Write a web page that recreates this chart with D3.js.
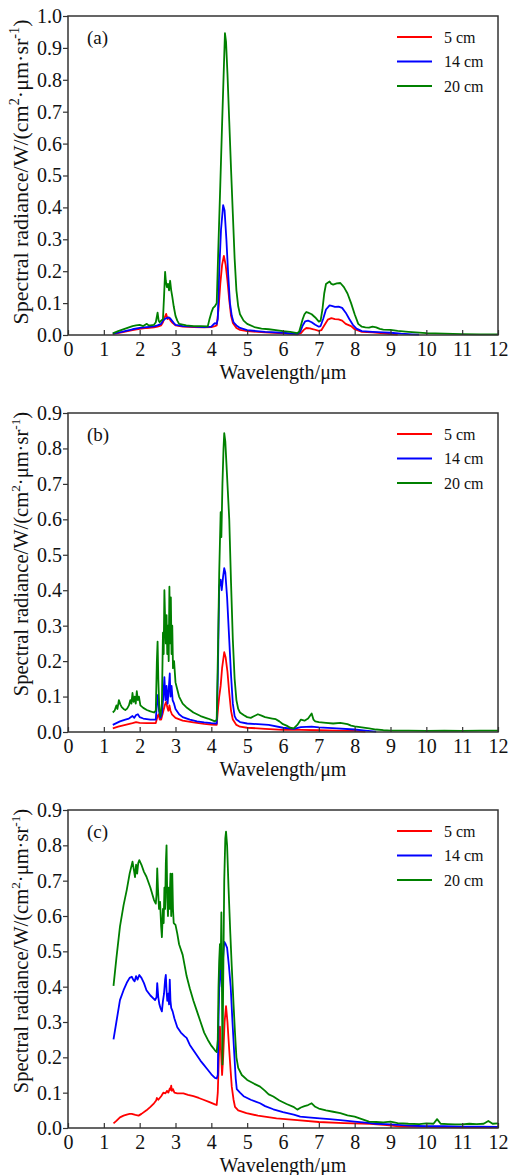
<!DOCTYPE html>
<html><head><meta charset="utf-8">
<script src="https://cdn.jsdelivr.net/npm/d3@7"></script>
<style>html,body{margin:0;padding:0;background:#fff;}svg{display:block;} svg text{font-family:"Liberation Serif","DejaVu Serif",serif;}</style>
</head><body>
<script>
// ---------- data (wavelength μm, radiance) ----------
const seriesNames = ["5 cm", "14 cm", "20 cm"];
const seriesColors = ["#ff0000", "#0000ff", "#008000"];
const xTicks = [0,1,2,3,4,5,6,7,8,9,10,11,12];
const yTicksA = [0,0.1,0.2,0.3,0.4,0.5,0.6,0.7,0.8,0.9,1.0];
const yTicksBC = [0,0.1,0.2,0.3,0.4,0.5,0.6,0.7,0.8,0.9];
const panelLabels = ["(a)", "(b)", "(c)"];

const redA = [[1.25,0.003],[1.5,0.008],[1.8,0.015],[2.0,0.019],[2.2,0.022],[2.4,0.024],[2.5,0.026],[2.6,0.03],[2.65,0.04],[2.7,0.055],[2.74,0.066],[2.78,0.05],[2.82,0.055],[2.86,0.045],[2.9,0.04],[3.0,0.03],[3.2,0.026],[3.5,0.025],[3.8,0.024],[4.0,0.025],[4.1,0.028],[4.15,0.03],[4.2,0.08],[4.25,0.16],[4.3,0.22],[4.35,0.248],[4.4,0.22],[4.45,0.17],[4.5,0.11],[4.55,0.06],[4.6,0.038],[4.7,0.022],[4.8,0.016],[5.0,0.012],[5.5,0.008],[6.0,0.005],[6.4,0.002],[6.5,0.006],[6.58,0.016],[6.65,0.022],[6.75,0.021],[6.85,0.018],[7.0,0.013],[7.07,0.015],[7.15,0.03],[7.25,0.048],[7.35,0.053],[7.45,0.05],[7.55,0.049],[7.65,0.045],[7.75,0.035],[7.9,0.028],[8.0,0.018],[8.2,0.01],[8.5,0.008],[8.8,0.005],[9.0,0.003],[9.2,0.001]];
const blueA = [[1.25,0.004],[1.5,0.01],[1.8,0.018],[2.0,0.022],[2.2,0.025],[2.4,0.027],[2.5,0.03],[2.6,0.035],[2.65,0.045],[2.7,0.05],[2.75,0.053],[2.8,0.055],[2.85,0.052],[2.9,0.045],[2.95,0.038],[3.0,0.032],[3.2,0.028],[3.5,0.026],[3.8,0.025],[4.0,0.026],[4.05,0.032],[4.1,0.037],[4.15,0.035],[4.18,0.05],[4.22,0.2],[4.27,0.33],[4.33,0.407],[4.37,0.39],[4.42,0.3],[4.47,0.19],[4.52,0.1],[4.57,0.06],[4.62,0.04],[4.7,0.03],[4.8,0.022],[5.0,0.015],[5.5,0.01],[6.0,0.007],[6.4,0.003],[6.48,0.01],[6.55,0.03],[6.62,0.043],[6.7,0.045],[6.8,0.04],[6.9,0.032],[7.0,0.026],[7.05,0.028],[7.12,0.05],[7.2,0.08],[7.3,0.093],[7.36,0.091],[7.45,0.088],[7.55,0.089],[7.65,0.085],[7.75,0.07],[7.85,0.05],[7.95,0.032],[8.05,0.02],[8.2,0.012],[8.5,0.01],[8.8,0.008],[9.0,0.007],[9.3,0.004],[9.6,0.002],[9.8,0.001]];
const greenA = [[1.25,0.005],[1.4,0.012],[1.6,0.02],[1.8,0.028],[1.9,0.03],[2.0,0.032],[2.1,0.028],[2.2,0.035],[2.25,0.03],[2.3,0.03],[2.4,0.032],[2.45,0.04],[2.5,0.07],[2.53,0.045],[2.56,0.04],[2.6,0.045],[2.65,0.05],[2.68,0.12],[2.71,0.198],[2.73,0.17],[2.76,0.15],[2.79,0.16],[2.82,0.14],[2.85,0.17],[2.88,0.14],[2.91,0.12],[2.95,0.09],[3.0,0.06],[3.05,0.045],[3.1,0.035],[3.3,0.03],[3.5,0.028],[3.7,0.028],[3.9,0.027],[3.95,0.05],[4.0,0.07],[4.05,0.085],[4.1,0.09],[4.15,0.1],[4.2,0.29],[4.25,0.47],[4.3,0.66],[4.35,0.84],[4.38,0.946],[4.41,0.92],[4.45,0.82],[4.5,0.67],[4.55,0.52],[4.6,0.38],[4.65,0.24],[4.7,0.14],[4.75,0.09],[4.8,0.065],[4.9,0.045],[5.0,0.035],[5.2,0.025],[5.4,0.02],[5.6,0.018],[5.8,0.015],[6.0,0.012],[6.2,0.01],[6.4,0.006],[6.45,0.01],[6.5,0.03],[6.55,0.05],[6.6,0.065],[6.65,0.072],[6.7,0.07],[6.8,0.065],[6.9,0.055],[7.0,0.042],[7.05,0.045],[7.1,0.08],[7.15,0.13],[7.2,0.16],[7.3,0.168],[7.35,0.16],[7.4,0.158],[7.5,0.162],[7.6,0.163],[7.7,0.15],[7.8,0.13],[7.9,0.1],[8.0,0.065],[8.1,0.035],[8.2,0.026],[8.3,0.024],[8.4,0.023],[8.5,0.026],[8.6,0.024],[8.7,0.019],[8.8,0.017],[9.0,0.016],[9.2,0.013],[9.5,0.01],[10.0,0.006],[10.5,0.004],[11,0.003],[11.5,0.002],[12,0.002]];

const redB = [[1.25,0.01],[1.4,0.015],[1.6,0.02],[1.8,0.025],[1.9,0.028],[2.0,0.026],[2.2,0.025],[2.45,0.025],[2.5,0.045],[2.53,0.05],[2.56,0.035],[2.6,0.035],[2.65,0.055],[2.7,0.075],[2.74,0.085],[2.77,0.07],[2.8,0.06],[2.83,0.075],[2.86,0.06],[2.9,0.05],[3.0,0.04],[3.2,0.032],[3.5,0.027],[3.8,0.023],[4.0,0.021],[4.15,0.02],[4.19,0.07],[4.22,0.1],[4.26,0.13],[4.3,0.18],[4.36,0.225],[4.4,0.21],[4.45,0.17],[4.5,0.11],[4.55,0.06],[4.6,0.035],[4.7,0.02],[4.8,0.015],[5.0,0.012],[5.5,0.009],[6.0,0.006],[6.5,0.006],[7.0,0.005],[7.5,0.004],[8.0,0.003],[8.3,0.001]];
const blueB = [[1.25,0.02],[1.35,0.025],[1.45,0.03],[1.6,0.035],[1.7,0.038],[1.8,0.045],[1.85,0.04],[1.9,0.048],[1.95,0.05],[2.0,0.042],[2.1,0.038],[2.3,0.035],[2.45,0.035],[2.48,0.08],[2.51,0.105],[2.54,0.06],[2.58,0.04],[2.62,0.05],[2.66,0.1],[2.69,0.155],[2.72,0.09],[2.75,0.13],[2.78,0.08],[2.81,0.12],[2.84,0.165],[2.86,0.1],[2.89,0.13],[2.92,0.09],[2.96,0.08],[3.0,0.065],[3.1,0.05],[3.2,0.042],[3.4,0.035],[3.6,0.03],[3.8,0.027],[4.0,0.025],[4.15,0.024],[4.18,0.15],[4.22,0.41],[4.26,0.43],[4.29,0.4],[4.33,0.44],[4.36,0.462],[4.39,0.45],[4.44,0.38],[4.5,0.26],[4.55,0.16],[4.6,0.08],[4.65,0.045],[4.7,0.035],[4.8,0.028],[5.0,0.024],[5.3,0.022],[5.6,0.02],[6.0,0.012],[6.3,0.009],[6.5,0.014],[6.8,0.015],[7.0,0.013],[7.5,0.01],[8.0,0.007],[8.3,0.004],[8.6,0.001]];
const greenB = [[1.25,0.055],[1.3,0.06],[1.35,0.075],[1.38,0.065],[1.42,0.09],[1.46,0.078],[1.5,0.07],[1.55,0.065],[1.6,0.062],[1.65,0.066],[1.7,0.075],[1.74,0.09],[1.77,0.08],[1.8,0.11],[1.83,0.085],[1.86,0.1],[1.89,0.08],[1.92,0.115],[1.95,0.09],[1.98,0.1],[2.02,0.075],[2.1,0.068],[2.2,0.062],[2.3,0.058],[2.4,0.055],[2.45,0.06],[2.48,0.2],[2.5,0.255],[2.52,0.15],[2.55,0.06],[2.58,0.045],[2.62,0.08],[2.65,0.28],[2.67,0.22],[2.69,0.4],[2.71,0.32],[2.73,0.25],[2.75,0.33],[2.77,0.22],[2.79,0.3],[2.81,0.2],[2.83,0.41],[2.85,0.25],[2.87,0.38],[2.89,0.22],[2.91,0.3],[2.93,0.18],[2.96,0.2],[3.0,0.14],[3.05,0.12],[3.1,0.1],[3.2,0.08],[3.3,0.07],[3.5,0.055],[3.7,0.045],[3.9,0.038],[4.0,0.034],[4.1,0.03],[4.15,0.035],[4.18,0.2],[4.22,0.45],[4.26,0.62],[4.28,0.55],[4.31,0.7],[4.34,0.8],[4.36,0.843],[4.39,0.82],[4.42,0.76],[4.46,0.68],[4.5,0.6],[4.55,0.42],[4.6,0.26],[4.65,0.15],[4.7,0.09],[4.75,0.065],[4.8,0.055],[4.9,0.048],[5.0,0.042],[5.1,0.04],[5.2,0.045],[5.3,0.05],[5.4,0.046],[5.5,0.042],[5.6,0.04],[5.7,0.038],[5.8,0.036],[5.9,0.03],[6.0,0.022],[6.1,0.018],[6.2,0.012],[6.3,0.01],[6.4,0.02],[6.5,0.035],[6.6,0.032],[6.7,0.038],[6.8,0.052],[6.85,0.035],[6.9,0.03],[7.0,0.028],[7.2,0.026],[7.4,0.024],[7.6,0.026],[7.8,0.022],[7.9,0.018],[8.0,0.016],[8.2,0.013],[8.4,0.01],[8.6,0.007],[8.8,0.005],[9.0,0.004],[9.5,0.004],[10,0.003],[10.5,0.004],[11,0.003],[11.5,0.004],[12,0.004]];

const redC = [[1.27,0.013],[1.35,0.02],[1.45,0.03],[1.55,0.035],[1.64,0.038],[1.72,0.04],[1.78,0.04],[1.88,0.037],[1.97,0.035],[2.05,0.04],[2.19,0.05],[2.3,0.06],[2.4,0.07],[2.46,0.078],[2.48,0.085],[2.52,0.08],[2.56,0.085],[2.6,0.09],[2.66,0.1],[2.72,0.098],[2.76,0.105],[2.8,0.1],[2.84,0.112],[2.86,0.108],[2.88,0.12],[2.9,0.105],[2.93,0.11],[2.97,0.1],[3.05,0.098],[3.22,0.098],[3.35,0.094],[3.5,0.09],[3.65,0.085],[3.78,0.08],[3.95,0.073],[4.1,0.067],[4.15,0.065],[4.18,0.1],[4.21,0.2],[4.24,0.287],[4.27,0.22],[4.3,0.15],[4.33,0.2],[4.37,0.3],[4.41,0.345],[4.45,0.3],[4.5,0.22],[4.54,0.16],[4.57,0.117],[4.62,0.08],[4.66,0.06],[4.75,0.05],[4.98,0.042],[5.3,0.035],[5.82,0.027],[6.4,0.022],[7.0,0.017],[7.7,0.014],[8.43,0.012],[8.9,0.008],[9.3,0.004],[10,0.003],[11,0.002],[12,0.002]];
const blueC = [[1.27,0.251],[1.35,0.3],[1.45,0.362],[1.55,0.39],[1.64,0.411],[1.72,0.425],[1.78,0.428],[1.82,0.42],[1.86,0.415],[1.9,0.43],[1.94,0.42],[1.99,0.433],[2.05,0.425],[2.12,0.41],[2.19,0.39],[2.3,0.375],[2.43,0.362],[2.47,0.37],[2.49,0.41],[2.52,0.37],[2.55,0.35],[2.58,0.34],[2.62,0.33],[2.65,0.36],[2.68,0.38],[2.71,0.42],[2.73,0.433],[2.75,0.39],[2.77,0.36],[2.8,0.38],[2.82,0.35],[2.84,0.42],[2.86,0.36],[2.88,0.34],[2.92,0.33],[2.97,0.31],[3.05,0.285],[3.15,0.27],[3.25,0.26],[3.31,0.255],[3.4,0.235],[3.5,0.22],[3.6,0.205],[3.7,0.19],[3.78,0.18],[3.9,0.165],[4.0,0.152],[4.1,0.142],[4.15,0.14],[4.18,0.15],[4.2,0.3],[4.24,0.485],[4.27,0.43],[4.29,0.4],[4.32,0.47],[4.36,0.527],[4.4,0.52],[4.44,0.51],[4.49,0.46],[4.54,0.4],[4.59,0.3],[4.64,0.21],[4.68,0.14],[4.71,0.11],[4.8,0.1],[4.9,0.09],[5.1,0.08],[5.36,0.07],[5.5,0.062],[5.73,0.053],[6.0,0.045],[6.3,0.038],[6.48,0.032],[6.7,0.03],[7.03,0.027],[7.3,0.025],[7.6,0.022],[8.0,0.018],[8.3,0.015],[8.6,0.012],[9.0,0.01],[9.5,0.007],[10.0,0.005],[10.5,0.005],[11.0,0.004],[11.5,0.004],[12.0,0.003]];
const greenC = [[1.27,0.402],[1.35,0.48],[1.45,0.57],[1.55,0.63],[1.64,0.674],[1.72,0.72],[1.8,0.754],[1.84,0.73],[1.87,0.71],[1.9,0.745],[1.93,0.72],[1.96,0.75],[1.99,0.758],[2.05,0.745],[2.12,0.725],[2.19,0.711],[2.3,0.68],[2.4,0.645],[2.45,0.635],[2.47,0.66],[2.49,0.735],[2.51,0.68],[2.54,0.62],[2.57,0.64],[2.6,0.57],[2.62,0.54],[2.65,0.62],[2.67,0.58],[2.69,0.68],[2.71,0.62],[2.73,0.75],[2.75,0.8],[2.77,0.65],[2.79,0.6],[2.81,0.68],[2.83,0.62],[2.86,0.72],[2.88,0.6],[2.91,0.72],[2.93,0.62],[2.95,0.58],[3.0,0.575],[3.05,0.55],[3.1,0.52],[3.2,0.49],[3.31,0.43],[3.4,0.395],[3.5,0.36],[3.6,0.33],[3.7,0.3],[3.8,0.27],[3.9,0.25],[4.0,0.233],[4.1,0.22],[4.15,0.215],[4.18,0.25],[4.2,0.4],[4.22,0.475],[4.24,0.52],[4.26,0.45],[4.28,0.61],[4.3,0.35],[4.31,0.18],[4.33,0.4],[4.36,0.7],[4.39,0.82],[4.41,0.839],[4.44,0.8],[4.48,0.68],[4.53,0.55],[4.57,0.457],[4.62,0.35],[4.66,0.27],[4.7,0.2],[4.75,0.17],[4.85,0.15],[5.0,0.136],[5.2,0.125],[5.36,0.117],[5.5,0.105],[5.6,0.095],[5.73,0.089],[5.9,0.078],[6.1,0.068],[6.29,0.06],[6.4,0.052],[6.5,0.058],[6.6,0.062],[6.7,0.065],[6.8,0.07],[6.9,0.06],[7.0,0.055],[7.2,0.05],[7.4,0.046],[7.6,0.042],[7.8,0.036],[8.0,0.032],[8.2,0.025],[8.4,0.018],[8.6,0.017],[8.8,0.016],[9.0,0.018],[9.2,0.014],[9.5,0.012],[9.8,0.011],[10.0,0.013],[10.2,0.012],[10.3,0.025],[10.4,0.012],[10.6,0.011],[10.8,0.01],[11.0,0.01],[11.2,0.012],[11.4,0.011],[11.6,0.012],[11.73,0.02],[11.85,0.012],[12.0,0.013]];

// ---------- layout ----------
const W = 509, H = 1175;
const panels = [
  {label: panelLabels[0], top: 16, bottom: 335, ymax: 1.0, yticks: yTicksA, series: [redA, blueA, greenA], titleY: 172, titleSize: 22},
  {label: panelLabels[1], top: 413, bottom: 732, ymax: 0.9, yticks: yTicksBC, series: [redB, blueB, greenB], titleY: 554, titleSize: 20.5},
  {label: panelLabels[2], top: 810, bottom: 1128, ymax: 0.9, yticks: yTicksBC, series: [redC, blueC, greenC], titleY: 951, titleSize: 20.5}
];
const left = 68, right = 498;

const svg = d3.select("body").append("svg").attr("width", W).attr("height", H);

const x = d3.scaleLinear().domain([0, 12]).range([left, right]);

panels.forEach((p) => {
  const y = d3.scaleLinear().domain([0, p.ymax]).range([p.bottom, p.top]);
  const g = svg.append("g");

  const line = d3.line().x(d => x(d[0])).y(d => y(d[1]));
  p.series.forEach((s, i) => {
    g.append("path").datum(s).attr("d", line)
      .attr("fill", "none").attr("stroke", seriesColors[i])
      .attr("stroke-width", 1.8).attr("stroke-linejoin", "round");
  });

  // x axis (ticks inward)
  const xa = g.append("g").attr("transform", `translate(0,${p.bottom})`)
    .call(d3.axisBottom(x).tickValues(xTicks).tickFormat(d3.format("d")).tickSize(-5).tickPadding(7));
  xa.attr("font-family", null);
  xa.select(".domain").remove();
  xa.selectAll("line").attr("stroke", "#333").attr("stroke-width", 1.2);
  xa.selectAll("text").attr("font-size", 20).attr("fill", "#111");

  // y axis (ticks outward)
  const ya = g.append("g").attr("transform", `translate(${left},0)`)
    .call(d3.axisLeft(y).tickValues(p.yticks).tickFormat(d3.format(".1f")).tickSize(5).tickPadding(1));
  ya.attr("font-family", null);
  ya.select(".domain").remove();
  ya.selectAll("line").attr("stroke", "#333").attr("stroke-width", 1.2);
  ya.selectAll("text").attr("font-size", 20).attr("fill", "#111");

  // frame
  g.append("rect").attr("x", left).attr("y", p.top)
    .attr("width", right - left).attr("height", p.bottom - p.top)
    .attr("fill", "none").attr("stroke", "#333").attr("stroke-width", 1.5);

  // panel label
  g.append("text").attr("x", 87).attr("y", p.top + 28)
    .attr("font-size", 19).attr("fill", "#111").text(p.label);

  // legend
  seriesNames.forEach((n, i) => {
    const ly = p.top + 21 + i * 24.5;
    g.append("line").attr("x1", 397).attr("x2", 432).attr("y1", ly).attr("y2", ly)
      .attr("stroke", seriesColors[i]).attr("stroke-width", 2);
    g.append("text").attr("x", 444).attr("y", ly + 5.5)
      .attr("font-size", 16).attr("fill", "#111").text(n);
  });

  // x title
  g.append("text").attr("x", (left + right) / 2).attr("y", p.bottom + 44)
    .attr("text-anchor", "middle").attr("font-size", 20).attr("fill", "#111")
    .text("Wavelength/μm");

  // y title
  const fs = p.titleSize, sup = fs * 0.65, off = fs * 0.4;
  const yt = g.append("text").attr("transform", `translate(28,${p.titleY}) rotate(-90)`)
    .attr("text-anchor", "middle").attr("font-size", fs).attr("fill", "#111");
  yt.append("tspan").text("Spectral radiance/W/(cm");
  yt.append("tspan").attr("font-size", sup).attr("dy", -off).text("2");
  yt.append("tspan").attr("dy", off).text("·μm·sr");
  yt.append("tspan").attr("font-size", sup).attr("dy", -off).text("-1");
  yt.append("tspan").attr("dy", off).text(")");
});
</script>
</body></html>
